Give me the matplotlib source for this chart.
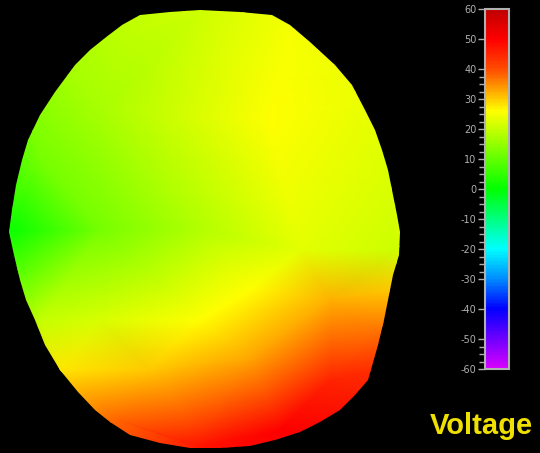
import numpy as np
import matplotlib
matplotlib.use("Agg")
import matplotlib.pyplot as plt
import matplotlib.tri as mtri
from matplotlib.colors import LinearSegmentedColormap, Normalize
from matplotlib.patches import Polygon
from matplotlib.cm import ScalarMappable

# head outline (image pixel coords)
head_x = [140, 170, 200, 240, 272, 290, 310, 335, 352, 365, 375, 382, 388, 392, 397, 400,
          399, 393, 388, 384, 378, 368, 355, 340, 320, 300, 275, 250, 220, 190, 160, 130,
          110, 95, 78, 60, 45, 35, 26, 20, 14, 9, 12, 16, 22, 28, 40, 55, 75, 90, 105, 122]
head_y = [15, 12, 10, 12, 15, 25, 42, 65, 85, 110, 130, 150, 170, 190, 215, 232,
          255, 275, 300, 320, 345, 380, 395, 410, 422, 432, 440, 446, 448, 448, 443, 435,
          422, 410, 392, 370, 345, 320, 300, 280, 255, 232, 210, 185, 160, 140, 115, 92,
          65, 50, 38, 25]

# sampled potentials (x, y, value)
pts_x = [200, 290, 120, 270, 100, 40, 350, 390, 15, 100, 200, 300, 395, 400, 380, 250,
         200, 100, 40, 60, 150, 250, 330, 280, 200, 120, 370, 330,
         0, 420, 0, 420, 0, 420, 210, 210]
pts_y = [12, 30, 40, 120, 110, 160, 100, 200, 230, 230, 230, 250, 250, 290, 330, 290,
         320, 320, 320, 370, 370, 360, 380, 430, 445, 420, 370, 300,
         0, 0, 453, 453, 230, 230, 0, 453]
pts_v = [21, 25, 19, 26, 17, 12, 24, 22, 1, 12, 18, 23, 21, 30, 37, 26,
         26, 22, 20, 28, 30, 33, 45, 50, 47, 38, 44, 32,
         16, 24, 34, 52, 1, 24, 22, 48]

# colour scale
cb_ticks = [60, 50, 40, 30, 20, 10, 0, -10, -20, -30, -40, -50, -60]
cmap_vals = [-60, -40, -30, -20, 0, 26, 35, 40, 50, 60]
cmap_cols = [(0.85, 0, 1), (0, 0, 1), (0, 0.55, 1), (0, 1, 1), (0, 1, 0),
             (1, 1, 0), (1, 0.55, 0), (1, 0.3, 0), (1, 0, 0), (0.75, 0, 0)]

vmin, vmax = -60, 60
nodes = [(v - vmin) / (vmax - vmin) for v in cmap_vals]
cmap = LinearSegmentedColormap.from_list("volt", list(zip(nodes, cmap_cols)))
norm = Normalize(vmin, vmax)

fig = plt.figure(figsize=(5.4, 4.53), dpi=100, facecolor="black")

ax = fig.add_axes([0, 0, 420 / 540, 1])
ax.set_facecolor("black")
tri = mtri.Triangulation(pts_x, pts_y)
tp = ax.tripcolor(tri, pts_v, cmap=cmap, norm=norm, shading="gouraud")
head = Polygon(list(zip(head_x, head_y)), closed=True, facecolor="none", edgecolor="none")
ax.add_patch(head)
tp.set_clip_path(head)
ax.set_xlim(0, 420)
ax.set_ylim(453, 0)
ax.axis("off")

cax = fig.add_axes([485 / 540, (453 - 369) / 453, 24 / 540, 360 / 453])
cb = fig.colorbar(ScalarMappable(norm=norm, cmap=cmap), cax=cax)
cb.outline.set_edgecolor("#b0b0b0")
cb.outline.set_linewidth(1.5)
cax.yaxis.set_ticks_position("left")
cax.set_yticks(cb_ticks)
cax.set_yticklabels([str(t) for t in cb_ticks])
minor = list(np.arange(-30, 40, 2.5)) + list(np.arange(-60, -50, 2.5))
cax.set_yticks(minor, minor=True)
cax.tick_params(axis="y", which="both", colors="#b0b0b0", labelsize=7, length=5, width=1,
                direction="out", pad=1)
cax.tick_params(axis="y", which="minor", length=4)

fig.text(481 / 540, 1 - 426 / 453, "Voltage", color="#f0e000", fontsize=21,
         fontweight="bold", family="Liberation Sans", ha="center", va="center")

fig.savefig("out.png", dpi=100, facecolor="black")
